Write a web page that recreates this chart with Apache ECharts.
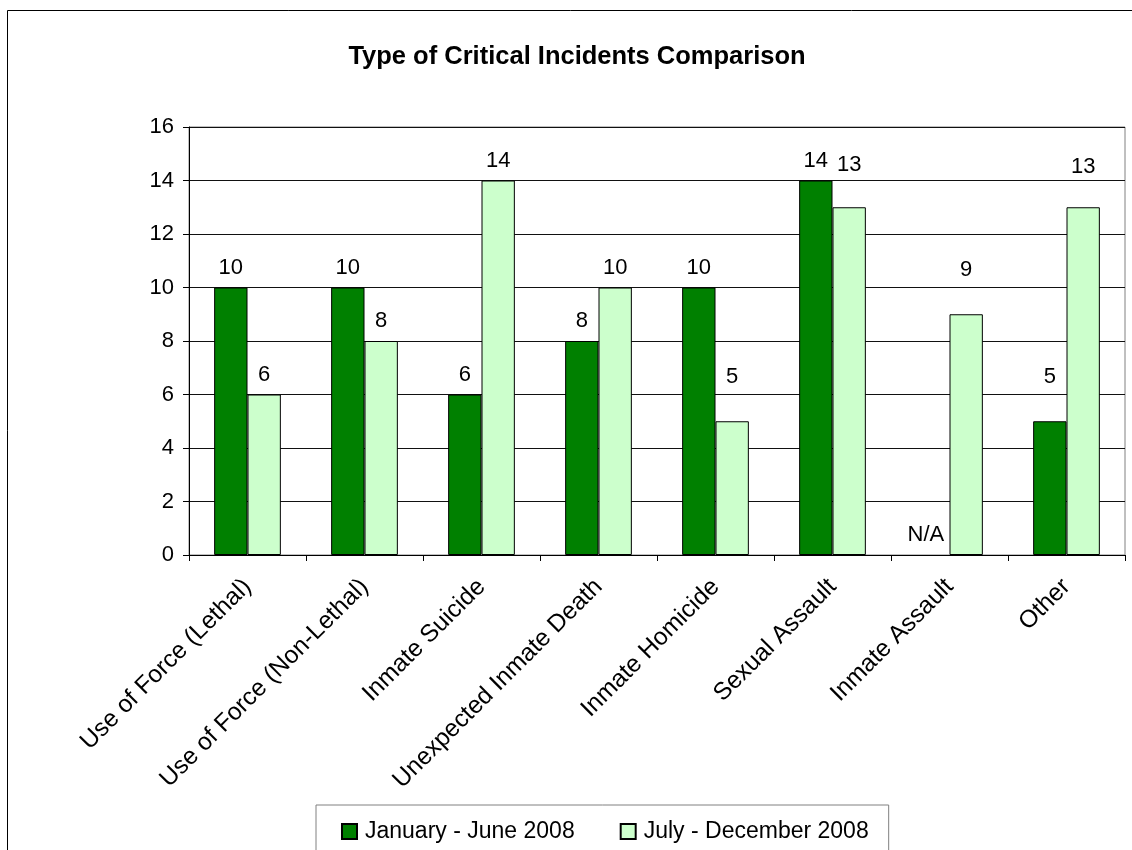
<!DOCTYPE html>
<html>
<head>
<meta charset="utf-8">
<script src="https://cdn.jsdelivr.net/npm/echarts@6/dist/echarts.min.js"></script>
<style>
html,body{margin:0;padding:0;background:#fff;}
#c{width:1132px;height:850px;}
</style>
</head>
<body>
<div id="c"></div>
<script>
const categories = ["Use of Force (Lethal)","Use of Force (Non-Lethal)","Inmate Suicide","Unexpected Inmate Death","Inmate Homicide","Sexual Assault","Inmate Assault","Other"];
const seriesNames = ["January - June 2008","July - December 2008"];
const janJune = [10,10,6,8,10,14,null,5];
const julDec = [6,8,14,10,5,13,9,13];
const yTicks = {min:0,max:16,interval:2};

// label placement tweaks (style only), keyed by category index
const labelShift = [
  {6:[-7,0], 7:[0,-24]},
  {4:[0,-24], 5:[0,-22], 6:[0,-24], 7:[0,-20]}
];

function toData(arr, s){
  return arr.map((v,i) => {
    const item = {value: v === null ? 0 : v};
    if (v === null) { item.itemStyle = {borderWidth:0}; item.label = {formatter:'N/A'}; }
    if (labelShift[s][i]) { item.label = Object.assign(item.label || {}, {offset: labelShift[s][i]}); }
    return item;
  });
}

const FONT = 'Arial, Liberation Sans, sans-serif';
const chart = echarts.init(document.getElementById('c'));
const labelStyle = {show:true, position:'top', distance:9, color:'#000', fontFamily:FONT, fontSize:22};
chart.setOption({
  animation:false,
  backgroundColor:'#fff',
  title:{
    text:'Type of Critical Incidents Comparison',
    left:572, top:39, textAlign:'center',
    textStyle:{fontFamily:FONT, fontWeight:'bold', fontSize:25.5, color:'#000'}
  },
  graphic:[{type:'rect', shape:{x:7.5,y:10.5,width:1200,height:900}, style:{fill:'none',stroke:'#000',lineWidth:1}, silent:true}],
  legend:{
    left:316, top:805, itemGap:45, itemWidth:15, itemHeight:15,
    padding:[15,20,30,25], borderColor:'#808080', borderWidth:1,
    icon:'rect',
    textStyle:{fontFamily:FONT, fontSize:23, color:'#000', padding:[0,0,0,3]},
    data:seriesNames
  },
  grid:{left:189, right:7, top:127, bottom:295, show:true, borderColor:'#808080', borderWidth:1},
  xAxis:{
    type:'category', data:categories,
    axisLine:{lineStyle:{color:'#000'}},
    axisTick:{show:true, alignWithLabel:false, length:6, lineStyle:{color:'#000'}},
    axisLabel:{rotate:45, interval:0, margin:28, color:'#000', fontFamily:FONT, fontSize:24.5}
  },
  yAxis:{
    type:'value', min:yTicks.min, max:yTicks.max, interval:yTicks.interval,
    axisLine:{show:true, lineStyle:{color:'#000'}},
    axisTick:{show:true, length:6, lineStyle:{color:'#000'}},
    splitLine:{lineStyle:{color:'#111', width:1}},
    axisLabel:{margin:15, color:'#000', fontFamily:FONT, fontSize:22}
  },
  series:[
    {name:seriesNames[0], type:'bar', data:toData(janJune,0), barGap:'0%', barCategoryGap:'43%',
     itemStyle:{color:'#008000', borderColor:'#000', borderWidth:1}, label:labelStyle},
    {name:seriesNames[1], type:'bar', data:toData(julDec,1), barGap:'0%', barCategoryGap:'43%',
     itemStyle:{color:'#CCFFCC', borderColor:'#000', borderWidth:1}, label:labelStyle}
  ]
});
</script>
</body>
</html>
